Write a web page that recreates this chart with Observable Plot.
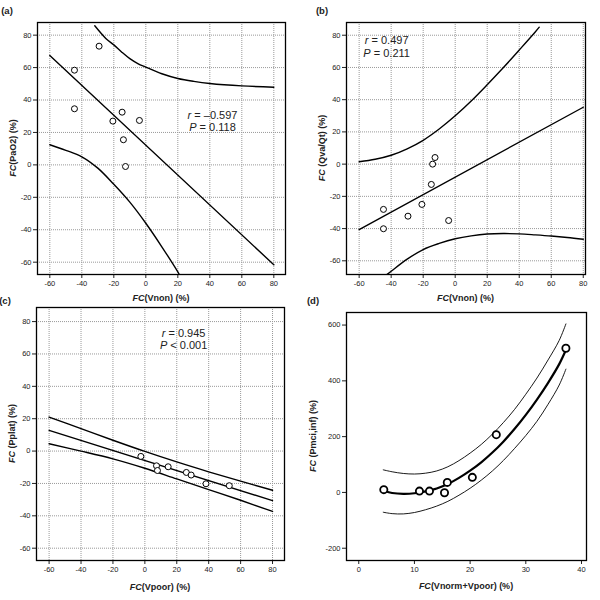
<!DOCTYPE html>
<html>
<head>
<meta charset="utf-8">
<script src="https://cdn.jsdelivr.net/npm/d3@7"></script>
<script src="https://cdn.jsdelivr.net/npm/@observablehq/plot@0.6"></script>
<style>
  body { margin: 0; background: #fff; font-family: "Liberation Sans", Arial, sans-serif; }
  #fig { position: relative; width: 600px; height: 600px; }
  #fig svg { position: absolute; overflow: visible; }
</style>
</head>
<body>
<div id="fig"></div>
<script>
// ---- (a) FC(Vnon) vs FC(PaO2)
const aVnon = [-29.2, -44.6, -44.6, -14.8, -20.6, -4, -14, -12.7]
const aPaO2 = [73.2, 58.4, 34.6, 32.5, 27, 27.4, 15.5, -1]
const aFitX = [-60, 80]
const aFitY = [67.5, -61.6]
const aUpX = [-31.9, -25, -20, -15, -10, -5, 0, 10, 20, 30, 40, 60, 80]
const aUpY = [85.8, 78, 74, 69.5, 65.5, 62.5, 60.3, 56.2, 53.3, 51.5, 50.2, 48.7, 47.9]
const aLoX = [-60, -50, -40, -30, -20, -10, 0, 10, 20, 20.9]
const aLoY = [12.4, 9, 5, -2, -12, -23, -36, -50.5, -66, -67.6]

// ---- (b) FC(Vnon) vs FC(Qva/Qt)
const bVnon = [-44.8, -44.8, -29.5, -20.8, -14.9, -14.1, -12.6, -4.1]
const bQva = [-28.1, -40.1, -32.3, -25, -12.6, 0, 4.1, -35]
const bFitX = [-60, 80]
const bFitY = [-40.6, 35.3]
const bUpX = [-60, -50, -40, -30, -20, -10, 0, 10, 20, 30, 40, 50, 52.5]
const bUpY = [1.5, 3, 5.5, 9.5, 14.8, 21.8, 30, 39.2, 49.3, 59.8, 70.8, 82, 85]
const bLoX = [-42.5, -40, -30, -20, -10, 0, 10, 20, 30, 40, 50, 60, 70, 80]
const bLoY = [-68.4, -66.5, -59, -53, -49.2, -46.3, -44.5, -43.4, -43.1, -43.3, -43.9, -44.6, -45.5, -46.6]

// ---- (c) FC(Vpoor) vs FC(Pplat)
const cVpoor = [-2.5, 7.3, 7.9, 14.6, 26, 29, 38.3, 52.9]
const cPplat = [-3.3, -9.1, -12, -9.7, -13.2, -14.8, -20.2, -21.4]
const cFitX = [-60, 80]
const cFitY = [12.8, -30.6]
const cBandX = [-60, -40, -20, 0, 20, 40, 60, 80]
const cUpY = [21, 13.9, 6.7, -0.2, -6.7, -12.8, -18.6, -24.2]
const cLoY = [4.5, 0, -4.8, -10.6, -17.2, -23.8, -30.4, -37.3]

// ---- (d) FC(Vnorm+Vpoor) vs FC(Pmci,inf)
const dV = [4.5, 10.9, 12.7, 15.4, 15.9, 20.4, 24.7, 37.2]
const dP = [10, 4.8, 4.8, -1, 36, 54, 207, 517]
const dFitX = [4.6, 6, 8, 10, 12, 14, 16, 18, 20, 22, 24, 26, 28, 30, 32, 34, 36, 37.3]
const dFitY = [5, -2, -5, -3, 4, 14, 30, 52, 78, 108, 143, 183, 228, 278, 333, 393, 460, 515]
const dUpX = [4.4, 6, 8, 10, 12, 14, 16, 18, 20, 22, 24, 26, 28, 30, 32, 34, 36, 37.2]
const dUpY = [81, 74, 68, 66, 69, 77, 92, 114, 141, 172, 209, 251, 298, 352, 410, 475, 545, 604]
const dLoX = [4.4, 6, 8, 10, 12, 14, 16, 18, 20, 22, 24, 26, 28, 30, 32, 34, 36, 37.2]
const dLoY = [-71, -76, -77, -72, -62, -49, -32, -10, 15, 44, 77, 115, 158, 204, 255, 316, 385, 442]

const pmTicks = [-60, -40, -20, 0, 20, 40, 60, 80]
const dXTicks = [0, 10, 20, 30, 40]
const dYTicks = [-200, 0, 200, 400, 600]

const pts = (xs, ys) => xs.map((x, i) => ({x, y: ys[i]}))

const font = '"Liberation Sans", Arial, sans-serif'
const fig = d3.select('#fig')

function panel(o) {
  const grid = o.grid ? [
    Plot.ruleX(o.xTicks, {stroke: '#999', strokeDasharray: '1,1', strokeWidth: 1}),
    Plot.ruleY(o.yTicks, {stroke: '#999', strokeDasharray: '1,1', strokeWidth: 1}),
  ] : []
  const svg = Plot.plot({
    width: o.width, height: o.height,
    marginTop: o.mt, marginRight: o.mr, marginBottom: o.mb, marginLeft: o.ml,
    x: {domain: o.xd, ticks: o.xTicks, tickSize: 4, tickPadding: 2, tickFormat: d => String(d), label: null},
    y: {domain: o.yd, ticks: o.yTicks, tickSize: 4, tickPadding: 2, tickFormat: d => String(d), label: null},
    style: {fontFamily: font, fontSize: '7.5px', color: '#222', background: 'transparent', overflow: 'visible'},
    marks: [...grid, ...o.marks, Plot.frame({stroke: 'black', strokeWidth: 1.3})]
  })
  svg.style.position = 'absolute'
  svg.style.left = o.left + 'px'
  svg.style.top = o.top + 'px'
  fig.append(() => svg)

  const s = d3.select(svg)
  const fx = d3.scaleLinear(o.xd, [o.ml, o.width - o.mr])
  const fy = d3.scaleLinear(o.yd, [o.height - o.mb, o.mt])

  // panel letter
  s.append('text').attr('x', o.letterX).attr('y', 14)
    .attr('font-family', font).attr('font-size', 9.5).attr('font-weight', 'bold')
    .text(o.letter)

  // axis titles, FC in italic
  const xt = s.append('text')
    .attr('x', (o.ml + o.width - o.mr) / 2).attr('y', o.xTitleY)
    .attr('text-anchor', 'middle').attr('font-family', font)
    .attr('font-size', 9).attr('font-weight', 'bold')
  xt.append('tspan').attr('font-style', 'italic').text('FC')
  xt.append('tspan').text(o.xTitle)

  const yc = (o.mt + o.height - o.mb) / 2
  const yt = s.append('text')
    .attr('transform', `translate(${o.yTitleX},${yc}) rotate(-90)`)
    .attr('text-anchor', 'middle').attr('font-family', font)
    .attr('font-size', 9).attr('font-weight', 'bold')
  yt.append('tspan').attr('font-style', 'italic').text('FC')
  yt.append('tspan').text(o.yTitle)

  // r / P annotation
  if (o.stat) {
    o.stat.forEach((st, i) => {
      const t = s.append('text')
        .attr('x', fx(o.statX)).attr('y', fy(o.statY[i]))
        .attr('font-family', font).attr('font-size', 11).attr('fill', '#222')
      t.append('tspan').attr('font-style', 'italic').text(st[0])
      t.append('tspan').text(st[1])
    })
  }
}

const lineOpts = (w, c) => ({x: 'x', y: 'y', stroke: 'black', strokeWidth: w, curve: c || 'linear', clip: true})

panel({
  left: 0, top: 0, width: 300, height: 310, mt: 22, mr: 15, mb: 36, ml: 37,
  xd: [-67.7, 87.3], yd: [-67.6, 87.8], xTicks: pmTicks, yTicks: pmTicks, grid: true,
  letter: '(a)', letterX: 7, xTitle: '(Vnon) (%)', yTitle: '(PaO2) (%)', xTitleY: 300.5, yTitleX: 16,
  stat: [['r', ' = –0.597'], ['P', ' = 0.118']], statX: 42, statY: [28, 20.6],
  marks: [
    Plot.line(pts(aFitX, aFitY), lineOpts(1.4)),
    Plot.line(pts(aUpX, aUpY), lineOpts(1.4, 'catmull-rom')),
    Plot.line(pts(aLoX, aLoY), lineOpts(1.4, 'catmull-rom')),
    Plot.dot(pts(aVnon, aPaO2), {x: 'x', y: 'y', r: 3, stroke: 'black', fill: 'white', strokeWidth: 1})
  ]
})

panel({
  left: 300, top: 0, width: 300, height: 310, mt: 22, mr: 15, mb: 36, ml: 46,
  xd: [-67.9, 81.4], yd: [-68.5, 87.9], xTicks: pmTicks, yTicks: pmTicks, grid: true,
  letter: '(b)', letterX: 22, xTitle: '(Vnon) (%)', yTitle: ' (Qva/Qt) (%)', xTitleY: 300.5, yTitleX: 24.5,
  stat: [['r', ' = 0.497'], ['P', ' = 0.211']], statX: -42.5, statY: [74.2, 66.2],
  marks: [
    Plot.line(pts(bFitX, bFitY), lineOpts(1.4)),
    Plot.line(pts(bUpX, bUpY), lineOpts(1.4, 'catmull-rom')),
    Plot.line(pts(bLoX, bLoY), lineOpts(1.4, 'catmull-rom')),
    Plot.dot(pts(bVnon, bQva), {x: 'x', y: 'y', r: 3, stroke: 'black', fill: 'white', strokeWidth: 1})
  ]
})

panel({
  left: 0, top: 290, width: 300, height: 310, mt: 17, mr: 16, mb: 40, ml: 36,
  xd: [-67.9, 87.5], yd: [-67.6, 88.7], xTicks: pmTicks, yTicks: pmTicks, grid: true,
  letter: '(c)', letterX: 5, xTitle: '(Vpoor) (%)', yTitle: ' (Pplat) (%)', xTitleY: 299.5, yTitleX: 14.5,
  stat: [['r', ' = 0.945'], ['P', ' < 0.001']], statX: 24.6, statY: [70.3, 62.8],
  marks: [
    Plot.line(pts(cFitX, cFitY), lineOpts(1.4)),
    Plot.line(pts(cBandX, cUpY), lineOpts(1.4, 'catmull-rom')),
    Plot.line(pts(cBandX, cLoY), lineOpts(1.4, 'catmull-rom')),
    Plot.dot(pts(cVpoor, cPplat), {x: 'x', y: 'y', r: 3, stroke: 'black', fill: 'white', strokeWidth: 1})
  ]
})

panel({
  left: 300, top: 290, width: 300, height: 310, mt: 22, mr: 14, mb: 40, ml: 46,
  xd: [-2.2, 40.9], yd: [-244, 645], xTicks: dXTicks, yTicks: dYTicks, grid: false,
  letter: '(d)', letterX: 13, xTitle: '(Vnorm+Vpoor) (%)', yTitle: ' (Pmci,inf) (%)', xTitleY: 298.5, yTitleX: 16,
  marks: [
    Plot.line(pts(dUpX, dUpY), lineOpts(0.9, 'catmull-rom')),
    Plot.line(pts(dLoX, dLoY), lineOpts(0.9, 'catmull-rom')),
    Plot.line(pts(dFitX, dFitY), lineOpts(2.2, 'catmull-rom')),
    Plot.dot(pts(dV, dP), {x: 'x', y: 'y', r: 3.6, stroke: 'black', fill: 'white', strokeWidth: 1.8})
  ]
})
</script>
</body>
</html>
